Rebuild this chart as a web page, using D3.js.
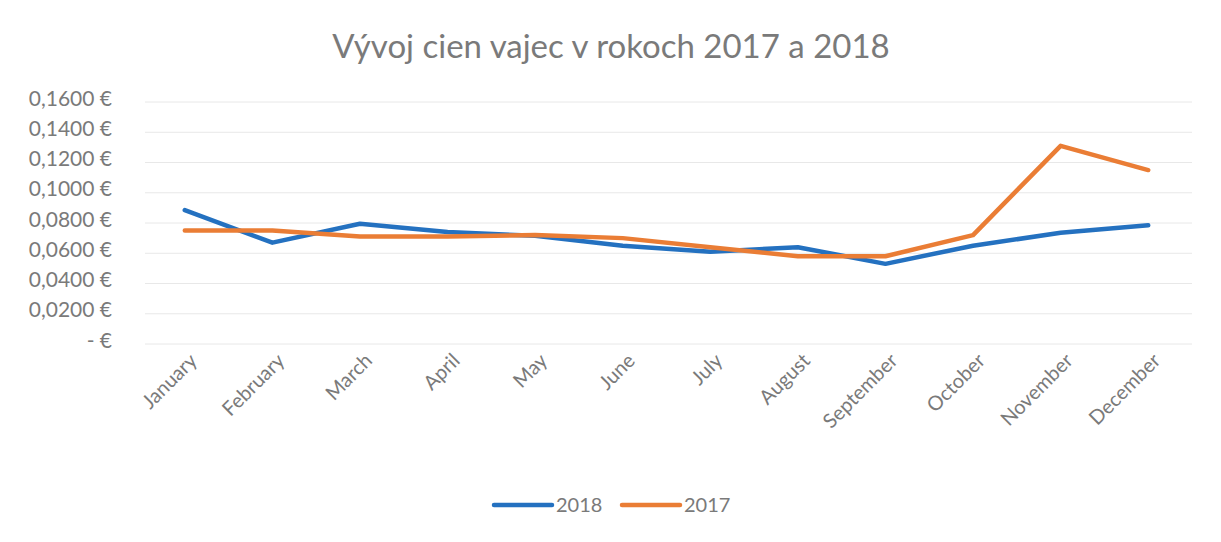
<!DOCTYPE html>
<html>
<head>
<meta charset="utf-8">
<script src="https://cdn.jsdelivr.net/npm/d3@7"></script>
<style>
  body { margin: 0; background: #fff; }
  text { font-family: Lato, "Open Sans", sans-serif; fill: #7a7a7a; }
</style>
</head>
<body>
<div id="chart-area"></div>
<script>
// data
var months = ["January", "February", "March", "April", "May", "June",
              "July", "August", "September", "October", "November", "December"];
var prices2018 = [0.0885, 0.0670, 0.0795, 0.0740, 0.0715, 0.0650, 0.0610, 0.0640, 0.0530, 0.0650, 0.0735, 0.0785];
var prices2017 = [0.0750, 0.0750, 0.0710, 0.0710, 0.0720, 0.0700, 0.0640, 0.0580, 0.0580, 0.0720, 0.1310, 0.1150];
var yTicks = [0, 0.02, 0.04, 0.06, 0.08, 0.10, 0.12, 0.14, 0.16];
var seriesNames = ["2018", "2017"];
var seriesColors = ["#2471c0", "#ea7d35"];

var width = 1221, height = 542;
var margin = {top: 102, right: 29, bottom: 198, left: 141};
var chartWidth = width - margin.left - margin.right;
var chartHeight = height - margin.top - margin.bottom;

var svg = d3.select("#chart-area").append("svg").attr("width", width).attr("height", height);

svg.append("text").attr("x", 611).attr("y", 58).attr("text-anchor", "middle")
    .attr("font-size", "33px").text("Vývoj cien vajec v rokoch 2017 a 2018");

var graph = svg.append("g").attr("transform", "translate(" + margin.left + "," + margin.top + ")");

var x = d3.scalePoint().domain(months).range([0, chartWidth]).padding(0.5);
var y = d3.scaleLinear().domain([0, 0.16]).range([chartHeight, 0]);

// gridlines
graph.selectAll("line.grid").data(yTicks).enter().append("line").attr("class", "grid")
    .attr("x1", 4).attr("x2", chartWidth).attr("y1", (d) => y(d)).attr("y2", (d) => y(d))
    .attr("stroke", "#e8e8e8").attr("stroke-width", 1);

var fmt = (d) => d === 0 ? "-   €" : d.toFixed(4).replace(".", ",") + " €";
var yAxis = d3.axisLeft(y).tickValues(yTicks).tickFormat(fmt).tickSize(0).tickPadding(29);
var gy = graph.append("g").call(yAxis);
gy.select(".domain").remove();
gy.selectAll("text").attr("font-size", "21px").style("fill", "#7a7a7a")
    .style("font-family", "Lato, 'Open Sans', sans-serif").attr("dy", "0.15em");

var xAxis = d3.axisBottom(x).tickSize(0);
var gx = graph.append("g").attr("transform", "translate(0," + chartHeight + ")").call(xAxis);
gx.select(".domain").remove();
gx.selectAll("text").attr("font-size", "20px").style("fill", "#7a7a7a")
    .style("font-family", "Lato, 'Open Sans', sans-serif")
    .attr("text-anchor", "end").attr("x", 0).attr("y", 0).attr("dy", "0.35em")
    .attr("transform", "translate(8,13) rotate(-45)");

var line = d3.line().x((d, i) => x(months[i])).y((d) => y(d));
[prices2018, prices2017].forEach((vals, s) => {
    graph.append("path").datum(vals).attr("d", line).attr("fill", "none")
        .attr("stroke", seriesColors[s]).attr("stroke-width", 4.5)
        .attr("stroke-linejoin", "round").attr("stroke-linecap", "round");
});

// legend
var legend = svg.append("g").attr("transform", "translate(494,505)");
seriesNames.forEach((name, i) => {
    var g = legend.append("g").attr("transform", "translate(" + (i * 128) + ",0)");
    g.append("line").attr("x1", 0).attr("x2", 58).attr("y1", 0).attr("y2", 0)
        .attr("stroke", seriesColors[i]).attr("stroke-width", 4.5).attr("stroke-linecap", "round");
    g.append("text").attr("x", 62).attr("y", 0).attr("dy", "0.35em").attr("font-size", "20px").text(name);
});
</script>
</body>
</html>
